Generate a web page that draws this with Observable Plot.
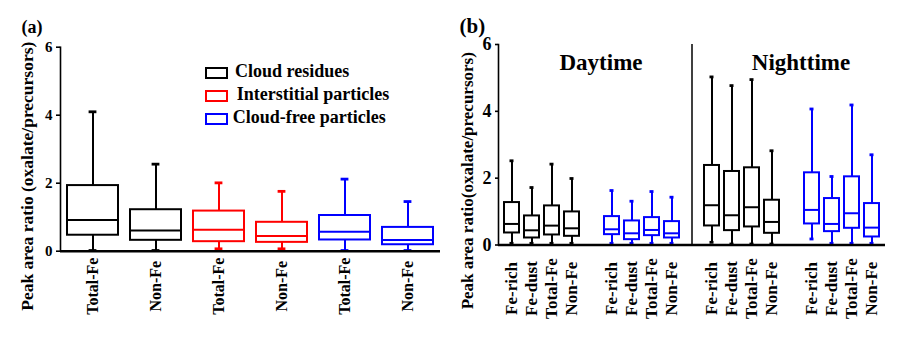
<!DOCTYPE html>
<html><head><meta charset="utf-8">
<script src="https://cdn.jsdelivr.net/npm/d3@7"></script>
<script src="https://cdn.jsdelivr.net/npm/@observablehq/plot@0.6"></script>
<style>
body{margin:0;background:#fff;}
#wrap{position:relative;width:904px;height:339px;overflow:hidden;font-family:"Liberation Serif","Times New Roman",serif;font-weight:bold;color:#000;}
.panel{position:absolute;top:0;}
.tag{position:absolute;line-height:1;white-space:nowrap;}
.lbox{position:absolute;box-sizing:border-box;width:23px;height:11.5px;border:2px solid #000;}
.ltext{position:absolute;font-size:18px;line-height:18px;white-space:nowrap;}
</style></head>
<body><div id="wrap">
<div class="panel" id="pa" style="left:0;"></div>
<div class="panel" id="pb" style="left:444px;"></div>
</div>
<script>
// ---------- Panel (a) data ----------
const groupNames = ["Cloud residues", "Interstitial particles", "Cloud-free particles"];
const aGroups = ["Cloud residues", "Cloud residues", "Interstitial particles", "Interstitial particles", "Cloud-free particles", "Cloud-free particles"];
const aLabels = ["Total-Fe", "Non-Fe", "Total-Fe", "Non-Fe", "Total-Fe", "Non-Fe"];
const aMin    = [0.02, 0.02, 0.07, 0.07, 0.02, 0.02];
const aQ1     = [0.47, 0.32, 0.28, 0.26, 0.33, 0.19];
const aMedian = [0.92, 0.61, 0.63, 0.45, 0.57, 0.33];
const aQ3     = [1.93, 1.22, 1.18, 0.85, 1.05, 0.70];
const aMax    = [4.10, 2.56, 2.01, 1.76, 2.12, 1.46];

// ---------- Panel (b) data ----------
const bPeriods = ["Daytime","Daytime","Daytime","Daytime","Daytime","Daytime","Daytime","Daytime",
                  "Nighttime","Nighttime","Nighttime","Nighttime","Nighttime","Nighttime","Nighttime","Nighttime"];
const bGroups = ["Cloud residues","Cloud residues","Cloud residues","Cloud residues",
                 "Cloud-free particles","Cloud-free particles","Cloud-free particles","Cloud-free particles",
                 "Cloud residues","Cloud residues","Cloud residues","Cloud residues",
                 "Cloud-free particles","Cloud-free particles","Cloud-free particles","Cloud-free particles"];
const bLabels = ["Fe-rich","Fe-dust","Total-Fe","Non-Fe","Fe-rich","Fe-dust","Total-Fe","Non-Fe",
                 "Fe-rich","Fe-dust","Total-Fe","Non-Fe","Fe-rich","Fe-dust","Total-Fe","Non-Fe"];
const bMin    = [0.05,0.05,0.05,0.05, 0.05,0.05,0.05,0.05, 0.08,0.03,0.03,0.03, 0.18,0.05,0.05,0.05];
const bQ1     = [0.36,0.21,0.30,0.26, 0.31,0.16,0.28,0.21, 0.57,0.43,0.54,0.35, 0.63,0.40,0.50,0.24];
const bMedian = [0.63,0.44,0.58,0.50, 0.47,0.35,0.45,0.35, 1.19,0.89,1.13,0.69, 1.05,0.63,0.95,0.52];
const bQ3     = [1.27,0.87,1.17,0.99, 0.85,0.72,0.82,0.70, 2.38,2.20,2.31,1.34, 2.16,1.39,2.04,1.24];
const bMax    = [2.52,1.72,2.42,1.99, 1.63,1.31,1.60,1.43, 5.03,4.77,4.95,2.82, 4.07,2.05,4.19,2.70];
const periodNames = ["Daytime", "Nighttime"];

const yTicks = [0, 2, 4, 6];
const yTitleA = "Peak area ratio (oxalate/precursors)";
const yTitleB = "Peak area ratio(oxalate/precursors)";

const colorScale = {domain: groupNames, range: ["#000000", "#ff0000", "#0000ff"]};
const FONT = "'Liberation Serif', 'Times New Roman', serif";

// rows
const aRows = aLabels.map((label, i) => ({key: "a" + i, label, group: aGroups[i],
  min: aMin[i], q1: aQ1[i], median: aMedian[i], q3: aQ3[i], max: aMax[i]}));
const bRows = bLabels.map((label, i) => ({key: "b" + i, label, group: bGroups[i], period: bPeriods[i],
  min: bMin[i], q1: bQ1[i], median: bMedian[i], q3: bQ3[i], max: bMax[i]}));

// band domain for panel b with gaps and a separator slot
const bDomain = [];
bRows.forEach((d, i) => {
  bDomain.push(d.key);
  if (i === 3) bDomain.push("gapDay");
  if (i === 7) bDomain.push("sep");
  if (i === 11) bDomain.push("gapNight");
});

function boxMarks(rows, capInset, sw) {
  return [
    Plot.ruleX(rows, {x: "key", y1: "q3", y2: "max", stroke: "group", strokeWidth: sw}),
    Plot.ruleX(rows, {x: "key", y1: "min", y2: "q1", stroke: "group", strokeWidth: sw}),
    Plot.tickY(rows, {x: "key", y: "max", stroke: "group", strokeWidth: sw + 0.8, insetLeft: capInset, insetRight: capInset}),
    Plot.tickY(rows, {x: "key", y: "min", stroke: "group", strokeWidth: sw + 0.8, insetLeft: capInset, insetRight: capInset}),
    Plot.barY(rows, {x: "key", y1: "q1", y2: "q3", fill: "white", stroke: "group", strokeWidth: sw}),
    Plot.tickY(rows, {x: "key", y: "median", stroke: "group", strokeWidth: sw})
  ];
}

const plotA = Plot.plot({
  width: 460, height: 339,
  marginLeft: 60, marginRight: 20, marginTop: 46.7, marginBottom: 88.3,
  style: {fontFamily: FONT, fontWeight: "bold", background: "transparent", overflow: "visible"},
  x: {type: "band", domain: aRows.map(d => d.key), paddingInner: 0.19, paddingOuter: 0.095, axis: null},
  y: {domain: [0, 6], axis: null},
  color: colorScale,
  marks: [
    Plot.frame({anchor: "left", strokeWidth: 1.6}),
    Plot.axisY({ticks: yTicks, tickFormat: d3.format("d"), tickSize: 4, tickPadding: 4, fontSize: 15, fontWeight: "bold", fontFamily: FONT, fill: "#000", label: null, strokeWidth: 1.6}),
    Plot.text([yTitleA], {frameAnchor: "left", rotate: -90, dx: -33, dy: 27, textAnchor: "middle", lineAnchor: "middle", fontSize: 17.5, fontWeight: "bold", fontFamily: FONT}),
    ...boxMarks(aRows, 21.6, 2),
    Plot.ruleY([0], {strokeWidth: 2.5}),
    Plot.text(aRows, {x: "key", text: "label", frameAnchor: "bottom", rotate: -90, dy: 35, textAnchor: "middle", lineAnchor: "middle", fontSize: 16, fontWeight: "bold", fontFamily: FONT})
  ]
});
document.getElementById("pa").appendChild(plotA);

const plotB = Plot.plot({
  width: 460, height: 339,
  marginLeft: 54, marginRight: 19, marginTop: 44, marginBottom: 94.5,
  style: {fontFamily: FONT, fontWeight: "bold", background: "transparent", overflow: "visible"},
  x: {type: "band", domain: bDomain, paddingInner: 0.25, paddingOuter: 0.275, axis: null},
  y: {domain: [0, 6], axis: null},
  color: colorScale,
  marks: [
    Plot.frame({anchor: "left", strokeWidth: 1.6}),
    Plot.axisY({ticks: yTicks, tickFormat: d3.format("d"), tickSize: 3, tickPadding: 4, fontSize: 18, fontWeight: "bold", fontFamily: FONT, fill: "#000", label: null, strokeWidth: 1.6}),
    Plot.text([yTitleB], {frameAnchor: "left", rotate: -90, dx: -31, dy: 36, textAnchor: "middle", lineAnchor: "middle", fontSize: 17, fontWeight: "bold", fontFamily: FONT}),
    Plot.ruleX(["sep"], {strokeWidth: 1.5}),
    ...boxMarks(bRows, 5.5, 2),
    Plot.ruleY([0], {strokeWidth: 2.5}),
    Plot.text(periodNames, {x: d => d === "Daytime" ? "gapDay" : "gapNight", text: d => d, frameAnchor: "top", dy: 18, dx: 9, lineAnchor: "middle", fontSize: 23, fontWeight: "bold", fontFamily: FONT}),
    Plot.text(bRows, {x: "key", text: "label", frameAnchor: "bottom", rotate: -90, dy: 43.5, textAnchor: "middle", lineAnchor: "middle", fontSize: 17, fontWeight: "bold", fontFamily: FONT})
  ]
});
document.getElementById("pb").appendChild(plotB);

// panel tags and legend
const wrap = document.getElementById("wrap");
function addTag(text, left, top, size) {
  const el = document.createElement("div");
  el.className = "tag"; el.textContent = text;
  el.style.left = left + "px"; el.style.top = top + "px"; el.style.fontSize = size + "px";
  wrap.appendChild(el);
}
addTag("(a)", 21.5, 17.5, 18);
addTag("(b)", 459.5, 16, 21);

const legendTops = [67, 90, 113.3];
const legendTextLeft = [235, 236.7, 232.7];
groupNames.forEach((g, i) => {
  const box = document.createElement("div");
  box.className = "lbox";
  box.style.left = "205px"; box.style.top = legendTops[i] + "px";
  box.style.borderColor = colorScale.range[i];
  wrap.appendChild(box);
  const t = document.createElement("div");
  t.className = "ltext"; t.textContent = g;
  t.style.left = legendTextLeft[i] + "px"; t.style.top = (legendTops[i] - 5.5) + "px";
  wrap.appendChild(t);
});
</script>
</body></html>
